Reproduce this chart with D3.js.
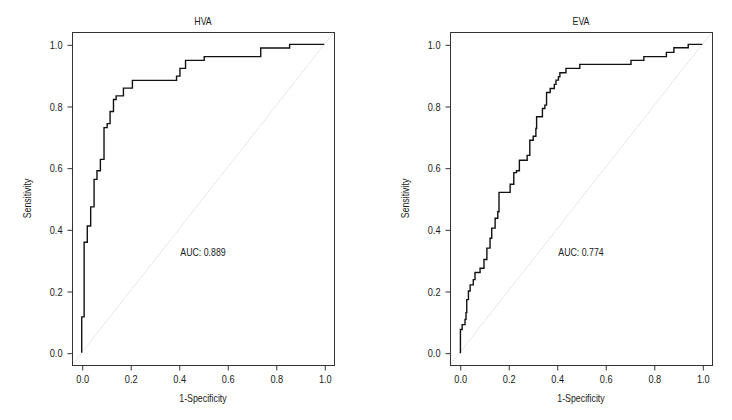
<!DOCTYPE html>
<html>
<head>
<meta charset="utf-8">
<script src="https://cdn.jsdelivr.net/npm/d3@7"></script>
<style>
    body { margin: 0; background: #fff; }
    svg { display: block; font-family: "Liberation Sans", Arial, sans-serif; }
</style>
</head>
<body>
<div id="chart"></div>
<script>
// ROC points: [1-specificity, sensitivity], step after each point
const hvaRoc = [
    [0, 0], [0, 0.116], [0.01, 0.358], [0.023, 0.411], [0.037, 0.473], [0.051, 0.562],
    [0.063, 0.59], [0.077, 0.627], [0.092, 0.73], [0.105, 0.743], [0.117, 0.782],
    [0.131, 0.821], [0.142, 0.833], [0.172, 0.858], [0.209, 0.883], [0.391, 0.897],
    [0.405, 0.922], [0.428, 0.948], [0.505, 0.96], [0.738, 0.988], [0.857, 1.0], [1.0, 1.0]
];

const evaRoc = [
    [0, 0], [0.003, 0.075], [0.01, 0.091], [0.022, 0.108], [0.026, 0.13], [0.029, 0.172],
    [0.036, 0.2], [0.043, 0.22], [0.056, 0.237], [0.063, 0.26], [0.084, 0.274],
    [0.1, 0.302], [0.112, 0.339], [0.125, 0.371], [0.132, 0.404], [0.146, 0.436],
    [0.157, 0.457], [0.162, 0.52], [0.208, 0.546], [0.223, 0.584], [0.234, 0.59],
    [0.246, 0.624], [0.278, 0.64], [0.289, 0.689], [0.303, 0.702], [0.314, 0.727],
    [0.317, 0.765], [0.341, 0.792], [0.351, 0.803], [0.358, 0.844], [0.373, 0.857],
    [0.39, 0.87], [0.397, 0.884], [0.407, 0.895], [0.413, 0.908], [0.438, 0.922],
    [0.495, 0.935], [0.706, 0.948], [0.759, 0.96], [0.852, 0.974], [0.883, 0.989],
    [0.942, 1.0], [1.0, 1.0]
];

const panelTitles = ["HVA", "EVA"];
const aucValues = [0.889, 0.774];
const tickValues = [0, 0.2, 0.4, 0.6, 0.8, 1.0];

const width = 732;
const height = 420;
const squeeze = 0.8; // the original uses a condensed face; narrow the regular one

const svg = d3.select("#chart").append("svg")
    .attr("width", width)
    .attr("height", height);

// each panel: plot box left/right, shared top/bottom
const panels = [
    {title: panelTitles[0], data: hvaRoc, auc: aucValues[0], left: 72, right: 334},
    {title: panelTitles[1], data: evaRoc, auc: aucValues[1], left: 450, right: 712}
];
const boxTop = 32;
const boxBottom = 365;
const ink = "#1a1a1a";

panels.forEach(p => drawPanel(p));

function label(g, x, y, text, rotate = 0)
{
    return g.append("text")
        .attr("transform", `translate(${x}, ${y}) rotate(${rotate}) scale(${squeeze}, 1)`)
        .attr("text-anchor", "middle")
        .attr("fill", ink)
        .style("font-size", "11px")
        .text(text);
}

function drawPanel(p)
{
    const x = d3.scaleLinear().domain([-0.04, 1.04]).range([p.left, p.right]);
    const y = d3.scaleLinear().domain([-0.04, 1.04]).range([boxBottom, boxTop]);

    const g = svg.append("g");

    // chance diagonal
    g.append("line")
        .attr("x1", x(-0.04)).attr("y1", y(-0.04))
        .attr("x2", x(1.04)).attr("y2", y(1.04))
        .attr("stroke", "#cfcfcf")
        .attr("stroke-width", 0.8)
        .attr("stroke-dasharray", "1.5,1");

    // ROC curve
    g.append("path")
        .datum(p.data)
        .attr("fill", "none")
        .attr("stroke", "#111")
        .attr("stroke-width", 1.4)
        .attr("d", d3.line()
            .x(d => x(d[0]))
            .y(d => y(d[1]))
            .curve(d3.curveStepAfter)
        );

    // box
    g.append("rect")
        .attr("x", p.left + 0.5)
        .attr("y", boxTop + 0.5)
        .attr("width", p.right - p.left)
        .attr("height", boxBottom - boxTop)
        .attr("fill", "none")
        .attr("stroke", "#333")
        .attr("stroke-width", 1);

    const xAxis = g.append("g")
        .attr("transform", `translate(0.5, ${boxBottom + 0.5})`)
        .call(d3.axisBottom(x).tickValues(tickValues).tickFormat(d3.format(".1f")).tickSize(5).tickPadding(4));
    xAxis.select(".domain").remove();

    const yAxis = g.append("g")
        .attr("transform", `translate(${p.left + 0.5}, 0.5)`)
        .call(d3.axisLeft(y).tickValues(tickValues).tickFormat(d3.format(".1f")).tickSize(5).tickPadding(5));
    yAxis.select(".domain").remove();
    yAxis.selectAll(".tick text").attr("x", -10 / squeeze);

    g.selectAll(".tick line").attr("stroke", "#333");
    g.selectAll(".tick text")
        .attr("fill", ink)
        .attr("transform", `scale(${squeeze}, 1)`)
        .style("font-size", "11.5px")
        .style("font-family", null);

    const cx = (p.left + p.right) / 2;

    label(g, cx, 25, p.title);
    label(g, cx, 402, "1-Specificity");
    label(g, p.left - 41, (boxTop + boxBottom) / 2, "Sensitivity", -90);
    label(g, x(0.5), y(0.327) + 4, `AUC: ${p.auc.toFixed(3)}`);
}
</script>
</body>
</html>
